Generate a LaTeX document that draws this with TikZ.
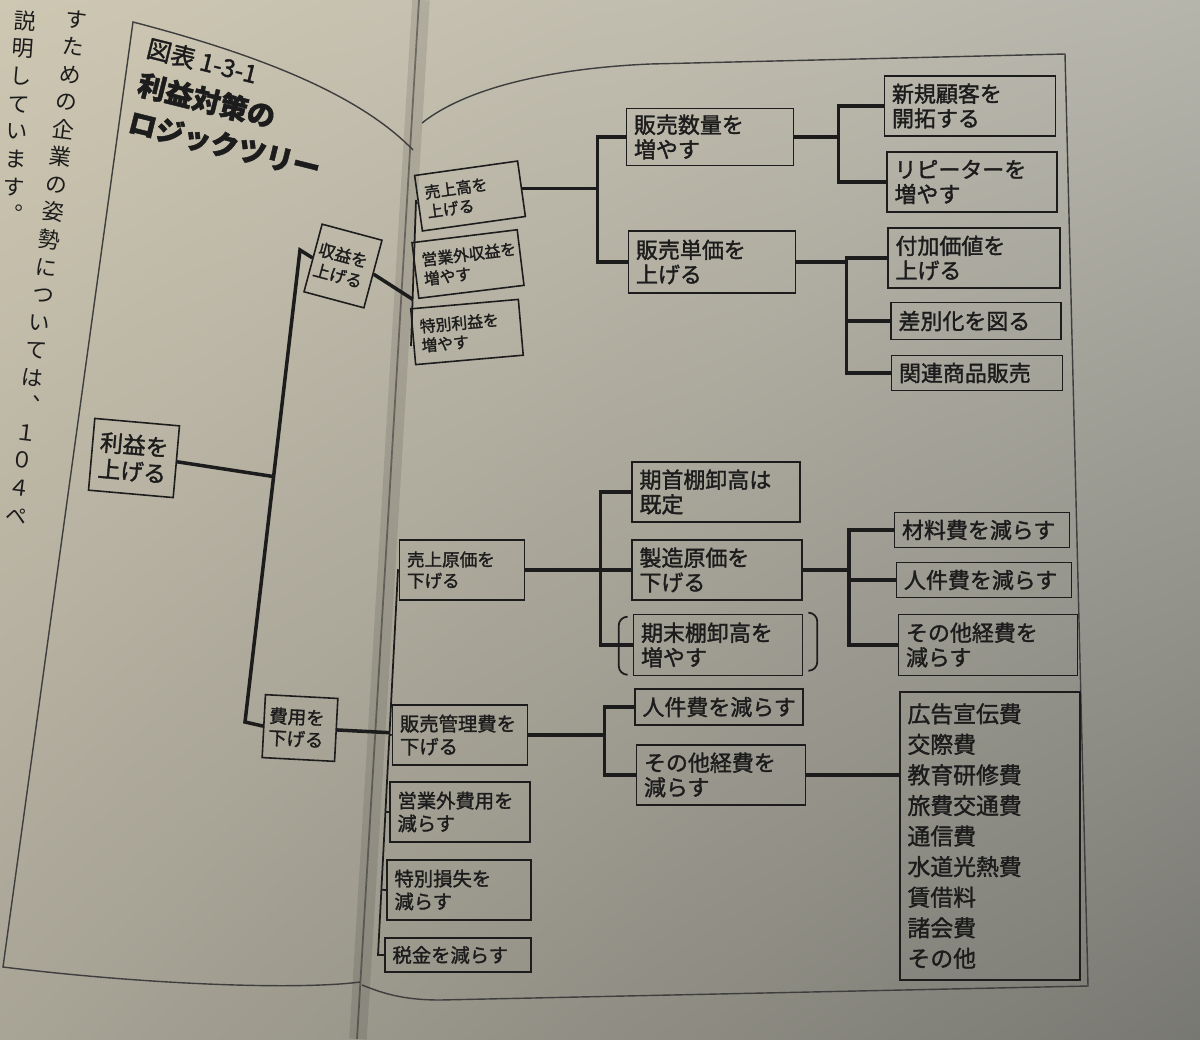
\documentclass[tikz,border=0pt]{standalone}
\usepackage{fontspec}
\newfontfamily\jp[FakeBold=1.5]{Noto Sans CJK JP}
\newfontfamily\jpv[RawFeature=+vert]{Noto Sans CJK JP}
\usetikzlibrary{calc, positioning, shadings}
\definecolor{ink}{RGB}{28,28,28}
\definecolor{paperUL}{RGB}{206,199,178}
\definecolor{paperUR}{RGB}{182,181,172}
\definecolor{paperLL}{RGB}{168,164,150}
\definecolor{paperLR}{RGB}{120,120,114}

\tikzset{
  box/.style={draw=ink, line width=0.9pt, text=ink, inner xsep=0.15cm, inner ysep=0.05cm,
    align=left, font=\jp\fontsize{12.5}{14}\selectfont},
  sbox/.style={font=\jp\fontsize{9}{11}\selectfont},
  mbox/.style={font=\jp\fontsize{11}{13}\selectfont},
  link/.style={draw=ink, line width=2pt},
  bus/.style={draw=ink, line width=1pt},
  frame/.style={draw=ink!85, line width=0.8pt},
  vtext/.style={text=ink, inner sep=0pt, align=center, font=\jpv\fontsize{12.5}{15.8}\selectfont},
}

\begin{document}
\begin{tikzpicture}[x=0.02cm, y=-0.02cm]
  \useasboundingbox (0,0) rectangle (1200,1039);
  \clip (0,0) rectangle (1200,1039);
  \shade[upper left=paperUL, upper right=paperUR, lower left=paperLL, lower right=paperLR]
    (0,0) rectangle (1200,1039);
  % gutter
  \draw[line width=10pt, draw=black, opacity=0.10] (421,0) -- (358,1039);
  \draw[line width=1pt, draw=ink, opacity=0.45] (419,0) -- (357,1039);

  % page frames
  \draw[frame] (413,150) .. controls (360,95) and (260,55) .. (133,22) -- (3,967)
    .. controls (150,985) and (300,990) .. (360,982);
  \draw[frame] (422,123) .. controls (470,85) and (560,68) .. (650,64) -- (1065,54) -- (1088,986)
    -- (440,1000) .. controls (400,1000) and (380,992) .. (362,985);

  % text of the left page
  \node[vtext, anchor=north, rotate=-7] (col1) at (78,10)
    {す\\た\\め\\の\\企\\業\\の\\姿\\勢\\に\\つ\\い\\て\\は\\、\\１\\０\\４\\ペ};
  \node[vtext, anchor=north, rotate=-4] (col2) at (26,10)
    {説\\明\\し\\て\\い\\ま\\す\\。};

  % title
  \node[anchor=north west, rotate=-14, align=left, text=ink, inner sep=0pt,
    font=\jp\bfseries\fontsize{16}{22}\selectfont] (title) at (150,36)
    {{\mdseries\fontsize{14}{22}\selectfont 図表 1-3-1}\\利益対策の\\ロジックツリー};

  % left page
  \node[box, rotate=-5, font=\jp\fontsize{13}{15}\selectfont, text width=1.4cm, minimum height=1.44cm] (rieki) at (134,458) {利益を\\上げる};
  \node[box, rotate=-15, font=\jp\fontsize{9.5}{12}\selectfont, inner xsep=0.07cm, text width=1.1cm, minimum height=1.4cm] (shueki) at (343,266) {収益を\\上げる};
  \node[box, rotate=-3, font=\jp\fontsize{10.5}{12.5}\selectfont, inner xsep=0.1cm, text width=1.25cm, minimum height=1.26cm] (hiyou) at (300,728) {費用を\\下げる};

  % revenue
  \node[box, sbox, rotate=8, text width=1.78cm, minimum height=1.12cm] (uriage) at (470,196) {売上高を\\上げる};
  \node[box, sbox, rotate=7, text width=1.82cm, minimum height=1.12cm] (eigai) at (468,264) {営業外収益を\\増やす};
  \node[box, sbox, rotate=5, text width=1.86cm, minimum height=1.12cm] (tokuri) at (467,332) {特別利益を\\増やす};
  \node[box, text width=3.04cm, minimum height=1.14cm] (hsuu) at (710,137) {販売数量を\\増やす};
  \node[box, text width=3.04cm, minimum height=1.24cm] (htanka) at (712,262) {販売単価を\\上げる};
  \node[box, text width=3.12cm, minimum height=1.2cm] (shinki) at (970,106) {新規顧客を\\開拓する};
  \node[box, text width=3.1cm, minimum height=1.2cm] (repeat) at (972,182) {リピーターを\\増やす};
  \node[box, text width=3.14cm, minimum height=1.2cm] (fuka) at (974,258) {付加価値を\\上げる};
  \node[box, text width=3.1cm, minimum height=0.74cm] (sabetsu) at (976,321) {差別化を図る};
  \node[box, text width=3.12cm, minimum height=0.7cm] (kanren) at (977,373) {関連商品販売};

  % costs
  \node[box, font=\jp\fontsize{10}{12}\selectfont, text width=2.2cm, minimum height=1.2cm] (genka) at (462,570) {売上原価を\\下げる};
  \node[box, mbox, text width=2.4cm, minimum height=1.2cm] (hankan) at (460,735) {販売管理費を\\下げる};
  \node[box, mbox, text width=2.5cm, minimum height=1.2cm] (eigaihi) at (460,812) {営業外費用を\\減らす};
  \node[box, mbox, text width=2.58cm, minimum height=1.2cm] (tokuson) at (459,890) {特別損失を\\減らす};
  \node[box, mbox, text width=2.62cm, minimum height=0.68cm] (zeikin) at (458,955) {税金を減らす};
  \node[box, text width=3.06cm, minimum height=1.2cm] (kishu) at (716,492) {期首棚卸高は\\既定};
  \node[box, text width=3.1cm, minimum height=1.2cm] (seizo) at (717,570) {製造原価を\\下げる};
  \node[box, text width=3.08cm, minimum height=1.22cm] (kimatsu) at (718,645) {期末棚卸高を\\増やす};
  \node[box, text width=3.2cm, minimum height=0.7cm] (zairyo) at (982,530) {材料費を減らす};
  \node[box, text width=3.2cm, minimum height=0.7cm] (jinken1) at (984,580) {人件費を減らす};
  \node[box, text width=3.28cm, minimum height=1.22cm] (sonota1) at (988,645) {その他経費を\\減らす};
  \node[box, text width=3.06cm, minimum height=0.72cm] (jinken2) at (719,707) {人件費を減らす};
  \node[box, text width=3.08cm, minimum height=1.2cm] (sonota2) at (721,775) {その他経費を\\減らす};
  \node[box, font=\jp\fontsize{13}{17.4}\selectfont, text width=3.3cm, minimum height=5.76cm] (list) at (990,836)
    {広告宣伝費\\交際費\\教育研修費\\旅費交通費\\通信費\\水道光熱費\\賃借料\\諸会費\\その他};

  % trunk
  \coordinate (tT) at (300,250);
  \coordinate (tB) at (245,722);
  \draw[link] (shueki.west) -- (tT) -- (tB) -- (hiyou.west);
  \draw[link] (rieki.east) -- ($(tT)!0.48!(tB)$);

  % revenue branches
  \coordinate (rT) at (416,200);
  \coordinate (rB) at (411,346);
  \draw[bus] (rT) -- (rB);
  \draw[link] (shueki.east) -- ($(rT)!0.68!(rB)$);
  \foreach \n in {uriage, eigai, tokuri}
    \draw[bus] ($(rT)!(\n.west)!(rB)$) -- (\n.west);

  \coordinate (j2) at ($(uriage.east)+(75,0)$);
  \draw[link] (uriage.east) -- (j2);
  \draw[link] (hsuu.west) -| (j2) |- (htanka.west);
  \coordinate (j3) at ($(hsuu.east)+(44,0)$);
  \draw[link] (hsuu.east) -- (j3);
  \draw[link] (shinki.west) -| (j3) |- (repeat.west);
  \coordinate (j4) at ($(htanka.east)+(50,0)$);
  \draw[link] (htanka.east) -- (j4);
  \draw[link] (fuka.west) -| (j4) |- (kanren.west);
  \draw[link] (j4 |- sabetsu.west) -- (sabetsu.west);

  % cost branches
  \coordinate (cT) at (398,570);
  \coordinate (cB) at (378,955);
  \draw[bus] (genka.west) -- (cT) -- (cB) -- (zeikin.west);
  \draw[link] (hiyou.east) -- ($(cT)!(hiyou.east)!(cB)$);
  \foreach \n in {hankan, eigaihi, tokuson}
    \draw[bus] ($(cT)!(\n.west)!(cB)$) -- (\n.west);

  \coordinate (j6) at ($(genka.east)+(75,0)$);
  \draw[link] (genka.east) -- (j6);
  \draw[link] (kishu.west) -| (j6) |- (kimatsu.west);
  \draw[link] (j6 |- seizo.west) -- (seizo.west);
  \coordinate (j7) at ($(seizo.east)+(46,0)$);
  \draw[link] (seizo.east) -- (j7);
  \draw[link] (zairyo.west) -| (j7) |- (sonota1.west);
  \draw[link] (j7 |- jinken1.west) -- (jinken1.west);
  \coordinate (j8) at ($(hankan.east)+(76,0)$);
  \draw[link] (hankan.east) -- (j8);
  \draw[link] (jinken2.west) -| (j8) |- (sonota2.west);
  \draw[link] (sonota2.east) -- (sonota2.east -| list.west);

  % brackets
  \draw[bus, rounded corners=5pt] ($(kimatsu.north west)+(-6,3)$) -- ++(-8,0) -- ++(0,58) -- ++(8,0);
  \draw[bus, rounded corners=5pt] ($(kimatsu.north east)+(6,-1)$) -- ++(8,0) -- ++(0,58) -- ++(-8,0);
\end{tikzpicture}
\end{document}
